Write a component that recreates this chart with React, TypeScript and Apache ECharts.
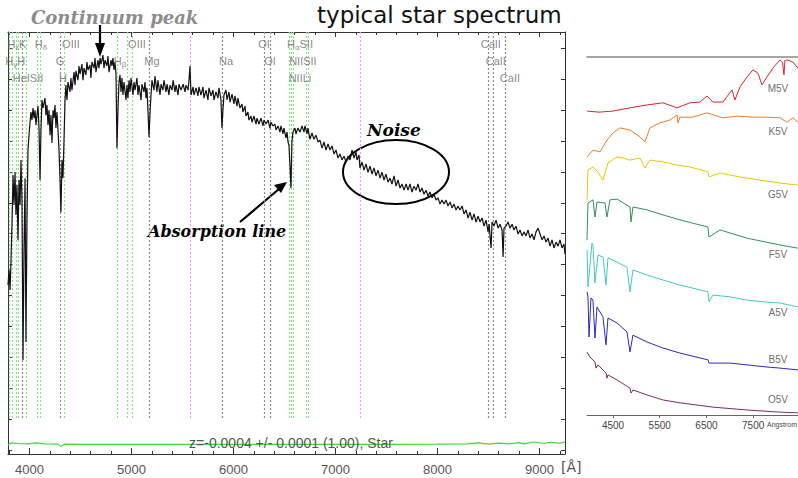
import React, { useEffect, useRef } from "react";
import * as echarts from "echarts";

// Observed spectrum: [wavelength (Å), flux]
const spectrum: [number, number][] = [
  [3790, 53.4], [3800, 58.3], [3810, 51.8], [3819, 60.8], [3829, 72.8], [3839, 89.0], [3849, 79.3], [3859, 90.0],
  [3868, 76.1], [3878, 85.8], [3888, 68.0], [3898, 87.4], [3908, 79.3], [3917, 93.9], [3927, 80.9], [3937, 29.1],
  [3947, 64.7], [3957, 88.0], [3966, 35.0], [3976, 74.4], [3986, 97.1], [3996, 101.9], [4006, 106.1], [4015, 109.4],
  [4025, 106.8], [4035, 110.7], [4045, 107.4], [4055, 110.0], [4064, 105.2], [4074, 108.4], [4084, 111.3], [4094, 104.2],
  [4104, 87.4], [4113, 103.6], [4123, 113.3], [4133, 110.7], [4153, 113.9], [4162, 108.4], [4172, 111.7], [4182, 105.2],
  [4192, 110.0], [4202, 101.9], [4211, 108.4], [4221, 99.4], [4231, 110.0], [4241, 107.4], [4251, 111.7], [4260, 104.2],
  [4270, 109.4], [4280, 103.6], [4290, 97.1], [4300, 87.4], [4309, 77.0], [4319, 93.9], [4329, 88.0], [4339, 100.3],
  [4349, 113.3], [4358, 118.1], [4368, 113.3], [4378, 119.1], [4398, 115.9], [4407, 120.4], [4417, 116.5], [4437, 122.3],
  [4447, 118.1], [4456, 122.7], [4476, 119.7], [4486, 124.3], [4496, 121.7], [4515, 124.9], [4525, 119.7], [4535, 123.6],
  [4554, 121.4], [4564, 125.6], [4574, 123.0], [4594, 124.6], [4603, 120.4], [4613, 125.6], [4633, 123.6], [4643, 126.9],
  [4652, 122.3], [4672, 126.2], [4682, 123.6], [4692, 126.9], [4701, 124.9], [4721, 127.8], [4731, 123.6], [4741, 126.2],
  [4760, 124.3], [4770, 127.5], [4780, 122.3], [4800, 126.2], [4809, 124.3], [4819, 126.9], [4829, 123.0], [4839, 125.6],
  [4849, 121.4], [4858, 97.7], [4868, 110.0], [4878, 119.1], [4888, 121.4], [4898, 115.9], [4907, 120.4], [4917, 114.9],
  [4927, 119.1], [4947, 113.3], [4956, 118.1], [4966, 113.9], [4976, 119.7], [4986, 115.9], [4996, 120.4], [5015, 114.9],
  [5025, 119.1], [5035, 116.5], [5054, 120.4], [5064, 114.9], [5074, 118.1], [5094, 113.3], [5103, 118.4], [5123, 115.9],
  [5133, 119.1], [5143, 113.9], [5152, 117.2], [5162, 110.0], [5172, 101.3], [5182, 109.1], [5192, 114.9], [5201, 119.7],
  [5221, 116.5], [5231, 121.0], [5250, 115.9], [5260, 119.7], [5280, 114.9], [5290, 118.4], [5309, 116.5], [5319, 119.7],
  [5339, 115.9], [5349, 118.4], [5368, 114.9], [5378, 118.1], [5398, 116.5], [5408, 119.7], [5427, 115.9], [5437, 118.1],
  [5457, 114.9], [5466, 118.4], [5486, 116.5], [5506, 118.4], [5525, 115.9], [5535, 118.1], [5555, 116.5], [5564, 119.7],
  [5574, 124.3], [5584, 114.9], [5604, 117.5], [5613, 114.9], [5633, 117.2], [5652, 114.6], [5662, 117.5], [5682, 114.9],
  [5701, 117.5], [5711, 113.9], [5731, 116.5], [5750, 113.3], [5760, 117.2], [5780, 114.6], [5799, 116.5], [5809, 113.3],
  [5829, 115.9], [5848, 113.9], [5858, 117.2], [5878, 113.3], [5887, 104.2], [5897, 110.0], [5907, 114.9], [5927, 116.5],
  [5937, 113.3], [5956, 115.9], [5966, 112.6], [5986, 115.2], [6005, 112.0], [6015, 114.6], [6035, 111.3], [6044, 113.9],
  [6064, 110.7], [6084, 112.0], [6093, 109.4], [6113, 111.3], [6123, 108.1], [6142, 109.4], [6152, 106.8], [6172, 108.1],
  [6182, 106.1], [6201, 108.1], [6221, 105.5], [6231, 107.4], [6250, 105.5], [6270, 107.4], [6290, 104.9], [6299, 106.8],
  [6319, 105.5], [6339, 106.8], [6358, 104.2], [6368, 106.1], [6388, 104.9], [6407, 105.5], [6417, 103.6], [6437, 104.9],
  [6456, 102.9], [6466, 104.9], [6486, 102.3], [6495, 104.2], [6515, 101.0], [6525, 102.9], [6535, 99.7], [6544, 98.7],
  [6554, 92.2], [6564, 84.8], [6573, 99.7], [6583, 102.9], [6603, 104.2], [6613, 102.3], [6632, 104.2], [6652, 102.9],
  [6672, 104.9], [6691, 102.9], [6701, 104.9], [6721, 102.3], [6730, 104.2], [6750, 100.6], [6770, 102.6], [6789, 100.6],
  [6809, 101.9], [6829, 99.7], [6848, 100.3], [6868, 97.7], [6888, 99.7], [6907, 97.1], [6927, 99.1], [6946, 97.1],
  [6966, 98.4], [6986, 95.8], [7005, 97.1], [7025, 94.5], [7044, 95.8], [7064, 93.9], [7084, 95.1], [7103, 93.2],
  [7123, 95.1], [7143, 93.9], [7162, 97.1], [7182, 94.5], [7201, 96.4], [7211, 93.9], [7231, 95.5], [7240, 91.3],
  [7260, 93.2], [7280, 90.6], [7299, 92.6], [7319, 89.9], [7339, 91.9], [7358, 89.3], [7378, 91.3], [7397, 88.7],
  [7417, 90.6], [7437, 88.0], [7456, 89.9], [7476, 87.4], [7495, 89.3], [7515, 86.7], [7535, 88.0], [7554, 86.1],
  [7574, 88.7], [7594, 85.4], [7613, 87.4], [7633, 84.8], [7652, 86.1], [7672, 84.1], [7692, 86.1], [7711, 84.1],
  [7731, 86.1], [7750, 83.5], [7770, 85.4], [7790, 84.1], [7809, 86.1], [7829, 83.5], [7848, 84.8], [7868, 82.8],
  [7888, 84.1], [7907, 82.2], [7927, 83.5], [7946, 81.6], [7966, 82.8], [7986, 80.9], [8005, 81.6], [8025, 79.6],
  [8044, 80.9], [8064, 79.6], [8084, 80.9], [8103, 79.0], [8123, 80.3], [8143, 78.3], [8162, 79.6], [8182, 77.7],
  [8201, 79.0], [8221, 77.7], [8241, 79.0], [8260, 76.4], [8280, 77.7], [8300, 75.1], [8319, 77.0], [8339, 74.4],
  [8358, 76.4], [8378, 73.8], [8398, 75.7], [8417, 73.8], [8437, 75.1], [8456, 72.5], [8476, 74.4], [8496, 70.6],
  [8506, 73.1], [8525, 65.4], [8535, 73.8], [8554, 72.5], [8574, 74.4], [8594, 71.8], [8613, 73.1], [8633, 71.2],
  [8643, 62.5], [8652, 71.8], [8672, 72.5], [8692, 73.8], [8711, 71.8], [8731, 73.1], [8750, 71.2], [8770, 72.5],
  [8790, 69.9], [8809, 71.2], [8829, 69.3], [8848, 70.6], [8868, 69.3], [8888, 71.2], [8907, 68.6], [8927, 69.9],
  [8946, 68.0], [8966, 70.6], [8986, 71.8], [9005, 69.9], [9025, 68.0], [9044, 69.3], [9064, 67.3], [9084, 68.6],
  [9103, 66.0], [9123, 68.0], [9142, 65.4], [9162, 67.3], [9182, 66.0], [9201, 68.0], [9221, 65.4], [9240, 66.7],
  [9250, 63.4],
];

// Flux error
const fluxError: [number, number][] = [
  [3790, 1.6], [3820, 2.3], [3900, 2.1], [3980, 2.0], [4060, 2.3], [4150, 2.0], [4280, 1.9], [4310, 1.1],
  [4340, 1.9], [4500, 1.8], [5000, 1.8], [5500, 1.8], [6000, 1.8], [6500, 1.8], [7000, 1.8], [7500, 1.8],
  [8000, 1.9], [8300, 2.0], [8400, 2.3], [8500, 1.9], [8600, 2.2], [8700, 2.0], [8800, 2.4], [8850, 2.0],
  [8950, 2.6], [9050, 2.1], [9100, 2.5], [9200, 2.2], [9250, 2.6],
];

// Line identification markers: wavelength (Å)
const emissionLines = [3798, 3835, 3869, 3889, 3970, 4072, 4102, 4340, 4861, 4959, 5007, 6548, 6563, 6583, 6716, 6731];
const absorptionLines = [3934, 4304, 5175, 5894, 6300, 6363, 8498, 8542, 8662];
const skyLines = [5577, 7245];

// Line names: [text, wavelength, row]
const lineNames: [string, number, number][] = [
  ["H{s|ε}K", 3878, 0], ["H{s|δ}", 4113, 0], ["OIII", 4407, 0], ["OIII", 5054, 0], ["OI", 6299, 0], ["H{s|α}SII", 6652, 0], ["CaII", 8523, 0],
  ["H{s|γ}H", 3860, 1], ["G", 4300, 1], ["H{s|β}", 4888, 1], ["Mg", 5201, 1], ["Na", 5927, 1], ["OI", 6358, 1], ["NIISII", 6681, 1], ["CaII", 8572, 1],
  ["HeISII", 3986, 2], ["H", 4329, 2], ["NIILi", 6652, 2], ["CaII", 8710, 2],
];

const majorTicks = [4000, 5000, 6000, 7000, 8000, 9000];
const minorTicks = [3800, 4200, 4400, 4600, 4800, 5200, 5400, 5600, 5800, 6200, 6400, 6600, 6800, 7200, 7400, 7600, 7800, 8200, 8400, 8600, 8800, 9200];
const fluxTicks = [0, 10, 20, 30, 40, 50, 60, 70, 80, 90, 100, 110, 120, 130];

// Main-sequence template spectra (offset for display)
const m5v: [number, number][] = [
  [3943, 84.9], [4200, 84.6], [4500, 84.9], [4863, 85.8], [5227, 86.6], [5570, 87.2], [5869, 85.8], [6147, 87.2],
  [6361, 87.4], [6511, 89.1], [6639, 87.4], [6853, 87.4], [7046, 90.8], [7110, 88.0], [7217, 91.6], [7367, 94.4],
  [7495, 96.4], [7602, 95.5], [7688, 92.2], [7795, 94.4], [7923, 96.9], [8073, 99.2], [8130, 98.5], [8159, 95.0],
  [8180, 99.0], [8223, 99.2], [8351, 98.6], [8458, 96.9],
];
const k5v: [number, number][] = [
  [3943, 72.1], [4071, 74.0], [4221, 73.5], [4371, 76.8], [4500, 78.8], [4649, 80.2], [4863, 79.6], [5077, 77.7],
  [5184, 76.3], [5291, 80.2], [5505, 81.6], [5719, 82.4], [5869, 83.8], [5890, 81.6], [5933, 83.2], [6211, 83.2],
  [6511, 84.4], [6853, 83.0], [7153, 83.5], [7495, 83.2], [7795, 83.2], [8073, 83.0], [8223, 81.8], [8351, 83.0],
  [8458, 81.8],
];
const g5v: [number, number][] = [
  [3943, 60.1], [3964, 68.4], [4071, 69.3], [4178, 67.9], [4285, 65.6], [4392, 70.4], [4585, 72.1], [4713, 71.8],
  [4863, 71.2], [5077, 71.8], [5184, 69.0], [5291, 71.2], [5570, 70.7], [5869, 69.8], [6147, 69.3], [6532, 67.9],
  [6554, 66.5], [6789, 67.6], [7217, 66.5], [7645, 65.6], [8073, 64.8], [8458, 64.2],
];
const f5v: [number, number][] = [
  [3943, 48.9], [3964, 59.2], [4071, 60.1], [4114, 55.3], [4157, 59.5], [4328, 59.2], [4371, 55.3], [4435, 60.1],
  [4585, 60.3], [4863, 58.1], [4885, 53.9], [4927, 58.1], [5227, 57.3], [5570, 55.9], [5933, 54.5], [6532, 52.5],
  [6554, 49.7], [6789, 51.7], [7367, 49.4], [8073, 47.5], [8458, 46.6],
];
const a5v: [number, number][] = [
  [3943, 46.1], [3964, 35.8], [4050, 48.0], [4071, 47.5], [4114, 36.9], [4178, 44.7], [4285, 44.1], [4350, 36.3],
  [4392, 43.9], [4585, 42.7], [4799, 41.3], [4863, 34.4], [4927, 40.5], [5227, 39.1], [5570, 37.7], [5933, 36.3],
  [6532, 34.4], [6554, 31.6], [6639, 33.5], [7003, 33.0], [7367, 32.1], [7709, 31.6], [8073, 31.3], [8458, 30.2],
];
const b5v: [number, number][] = [
  [3943, 34.4], [3964, 33.0], [3986, 21.8], [4028, 32.7], [4071, 32.1], [4114, 21.5], [4157, 30.2], [4285, 27.4],
  [4350, 19.6], [4392, 27.1], [4585, 25.7], [4799, 23.2], [4863, 17.6], [4927, 22.3], [5227, 20.4], [5570, 18.7],
  [5933, 17.3], [6532, 15.4], [6554, 14.5], [7003, 14.5], [7367, 14.0], [7795, 13.4], [8073, 13.1], [8458, 12.6],
];
const o5v: [number, number][] = [
  [3943, 17.6], [4007, 16.2], [4114, 14.8], [4135, 13.1], [4178, 14.0], [4350, 11.7], [4371, 10.3], [4392, 11.2],
  [4585, 9.8], [4863, 7.5], [4885, 6.1], [4927, 7.0], [5227, 5.6], [5570, 4.2], [5933, 3.4], [6639, 2.2],
  [7367, 1.4], [8073, 0.8], [8458, 0.6],
];

const starClasses = ["M5V", "K5V", "G5V", "F5V", "A5V", "B5V", "O5V"];
const starColors = ["#d8262b", "#ee7b2b", "#eec400", "#33905c", "#45c9c2", "#2b2bb8", "#7a2c6e"];
const starSpectra = [m5v, k5v, g5v, f5v, a5v, b5v, o5v];
const starLabelFlux = [91.3, 79.1, 61.5, 44.7, 28.5, 15.6, 4.2];
const starTickLabels = [4500, 5500, 6500, 7500];

const ROW_FLUX = [131.4, 125.9, 120.4];

export default function App() {
  const ref = useRef<HTMLDivElement>(null);

  useEffect(() => {
    if (!ref.current) return;
    const chart = echarts.init(ref.current, undefined, { renderer: "svg" });

    const xMin = 3790;
    const xMax = 9250;
    const yMin = -1.29;
    const yMax = 135.3;
    const lineTop = yMax;
    const lineBottom = 9.7;
    const plain = (v: number) => String(v);

    const markPair = (w: number, color: string) => [
      { coord: [w, lineTop], lineStyle: { color, type: [2, 2], width: 1.2 } },
      { coord: [w, lineBottom] },
    ];

    const markData = [
      ...emissionLines.map((w) => markPair(w, "#8fdc8f")),
      ...absorptionLines.map((w) => markPair(w, "#8a8a8a")),
      ...skyLines.map((w) => markPair(w, "#e6a3e6")),
    ];

    const axisColor = "#333";
    const labelFont = { fontFamily: "Liberation Sans", fontSize: 13, color: "#555" };

    const mainX = (position: string, ticks: number[], len: number, labels: boolean, line: boolean) => ({
      type: "value",
      gridIndex: 0,
      position,
      min: xMin,
      max: xMax,
      splitLine: { show: false },
      axisLine: { show: line, onZero: false, lineStyle: { color: axisColor, width: 1 } },
      axisTick: { show: true, inside: true, length: len, customValues: ticks, lineStyle: { color: axisColor } },
      axisLabel: labels
        ? { show: true, customValues: majorTicks, margin: 9, formatter: plain, ...labelFont }
        : { show: false },
    });

    const option: any = {
      animation: false,
      backgroundColor: "#fff",
      grid: [
        { left: 8, top: 32, width: 557, height: 422 },
        { left: 587, top: 57, width: 211, height: 358 },
      ],
      xAxis: [
        mainX("bottom", majorTicks, 6, true, true),
        mainX("bottom", minorTicks, 3, false, false),
        mainX("top", majorTicks, 5, false, true),
        mainX("top", minorTicks, 3, false, false),
        {
          type: "value",
          gridIndex: 1,
          position: "bottom",
          min: 3943,
          max: 8460,
          splitLine: { show: false },
          axisLine: { show: true, onZero: false, lineStyle: { color: "#666", width: 1 } },
          axisTick: { show: true, inside: false, length: 3, customValues: starTickLabels, lineStyle: { color: "#666" } },
          axisLabel: { show: true, customValues: starTickLabels, margin: 5, formatter: plain, fontFamily: "Liberation Sans", fontSize: 10, color: "#444" },
        },
        {
          type: "value",
          gridIndex: 1,
          position: "top",
          min: 3943,
          max: 8460,
          splitLine: { show: false },
          axisLine: { show: true, onZero: false, lineStyle: { color: "#888", width: 1.5 } },
          axisTick: { show: false },
          axisLabel: { show: false },
        },
      ],
      yAxis: [
        {
          type: "value", gridIndex: 0, position: "left", min: yMin, max: yMax,
          splitLine: { show: false },
          axisLine: { show: true, onZero: false, lineStyle: { color: axisColor } },
          axisTick: { show: true, inside: true, length: 4, customValues: fluxTicks, lineStyle: { color: axisColor } },
          axisLabel: { show: false },
        },
        {
          type: "value", gridIndex: 0, position: "right", min: yMin, max: yMax,
          splitLine: { show: false },
          axisLine: { show: true, onZero: false, lineStyle: { color: axisColor } },
          axisTick: { show: true, inside: true, length: 4, customValues: fluxTicks, lineStyle: { color: axisColor } },
          axisLabel: { show: false },
        },
        {
          type: "value", gridIndex: 1, min: 0, max: 100, show: false,
          splitLine: { show: false },
        },
      ],
      series: [
        {
          type: "line",
          xAxisIndex: 0,
          yAxisIndex: 0,
          data: fluxError,
          symbol: "none",
          lineStyle: { color: "#3fd83f", width: 1.2 },
          z: 2,
        },
        {
          type: "line",
          xAxisIndex: 0,
          yAxisIndex: 0,
          data: spectrum,
          symbol: "none",
          lineStyle: { color: "#111", width: 1.2 },
          z: 3,
          markLine: {
            silent: true,
            symbol: ["none", "none"],
            label: { show: false },
            data: markData,
            z: 1,
          },
        },
        {
          type: "scatter",
          xAxisIndex: 0,
          yAxisIndex: 0,
          symbolSize: 0,
          silent: true,
          data: lineNames.map(([t, w, row]) => [w, ROW_FLUX[row], t]),
          label: {
            show: true,
            position: "inside",
            formatter: (p: any) => p.data[2],
            fontFamily: "Liberation Sans",
            fontSize: 11,
            color: "#6a6a6a",
            rich: {
              s: { fontFamily: "Liberation Sans", fontSize: 8, color: "#6a6a6a", padding: [7, 0, 0, 0] },
            },
          },
          z: 4,
        },
        ...starSpectra.map((d, i) => ({
          type: "line",
          name: starClasses[i],
          xAxisIndex: 4,
          yAxisIndex: 2,
          data: d,
          symbol: "none",
          lineStyle: { color: starColors[i], width: 1 },
        })),
        {
          type: "scatter",
          xAxisIndex: 4,
          yAxisIndex: 2,
          symbolSize: 0,
          silent: true,
          data: starClasses.map((c, i) => [8030, starLabelFlux[i], c]),
          label: {
            show: true,
            position: "inside",
            formatter: (p: any) => p.data[2],
            fontFamily: "Liberation Sans",
            fontSize: 10,
            color: "#444",
          },
        },
      ],
      graphic: [
        {
          type: "text", x: 317, y: 15,
          style: { text: "typical star spectrum", font: "23px 'DejaVu Sans'", fill: "#111", align: "left", verticalAlign: "middle" },
        },
        {
          type: "text", x: 31, y: 17,
          style: { text: "Continuum peak", font: "italic bold 18px 'DejaVu Serif'", fill: "#8c8c8c", align: "left", verticalAlign: "middle" },
        },
        { type: "line", shape: { x1: 100, y1: 25, x2: 100, y2: 46 }, style: { stroke: "#000", lineWidth: 2.2 } },
        { type: "polygon", shape: { points: [[95, 43], [105, 43], [100, 57]] }, style: { fill: "#000" } },
        {
          type: "text", x: 148, y: 231,
          style: { text: "Absorption line", font: "italic bold 16px 'DejaVu Serif'", fill: "#000", align: "left", verticalAlign: "middle" },
        },
        { type: "line", shape: { x1: 240, y1: 222, x2: 279, y2: 189 }, style: { stroke: "#000", lineWidth: 2.2 } },
        { type: "polygon", shape: { points: [[287, 182], [281, 193], [274, 185]] }, style: { fill: "#000" } },
        {
          type: "text", x: 367, y: 130,
          style: { text: "Noise", font: "italic bold 17px 'DejaVu Serif'", fill: "#000", align: "left", verticalAlign: "middle" },
        },
        { type: "ellipse", shape: { cx: 396, cy: 172, rx: 53, ry: 32 }, style: { fill: "none", stroke: "#000", lineWidth: 2 } },
        {
          type: "text", x: 291, y: 443,
          style: { text: "z=-0.0004 +/- 0.0001 (1.00), Star", font: "14px 'Liberation Sans'", fill: "#555", align: "center", verticalAlign: "middle" },
          z: 10,
        },
        {
          type: "text", x: 561, y: 467,
          style: { text: "[Å]", font: "14px 'DejaVu Sans'", fill: "#555", align: "left", verticalAlign: "middle" },
        },
        {
          type: "text", x: 782, y: 424,
          style: { text: "Angstrom", font: "7px 'Liberation Sans'", fill: "#444", align: "center", verticalAlign: "middle" },
        },
      ],
    };

    chart.setOption(option);
    return () => chart.dispose();
  }, []);

  return (
    <div
      ref={ref}
      style={{ position: "fixed", left: 0, top: 0, width: 798, height: 478, background: "#fff" }}
    />
  );
}
